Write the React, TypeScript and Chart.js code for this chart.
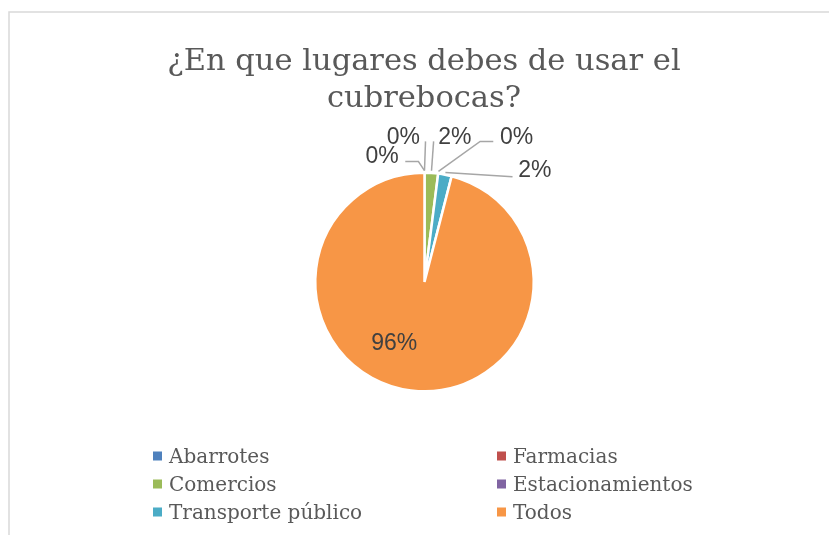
import React, { useEffect, useRef } from "react";
import { Chart, registerables } from "chart.js";

Chart.register(...registerables);

const chartTitle = ["¿En que lugares debes de usar el", "cubrebocas?"];
const categories = ["Abarrotes", "Farmacias", "Comercios", "Estacionamientos", "Transporte público", "Todos"];
const counts = [0, 0, 1, 0, 1, 48];
const percentLabels = ["0%", "0%", "2%", "0%", "2%", "96%"];
const sliceColors = ["#4F81BD", "#C0504D", "#9BBB59", "#8064A2", "#4BACC6", "#F79646"];

// label placement (px at reference radius 108, relative to pie centre)
const REF_R = 108;
const labelCenters: [number, number][] = [[-42, -125], [-21, -144], [30, -144], [91, -144], [109, -111], [-30, 60]];
const leaderPoints: [number, number][][] = [
  [[-19, -119], [-6, -119]],
  [[1, -139]],
  [[9, -139]],
  [[68, -139], [55, -139]],
  [[87, -104]],
  [],
];

const labelPlugin = {
  id: "customDraw",
  beforeDraw(chart: any) {
    const ctx = chart.ctx;
    ctx.save();
    ctx.fillStyle = "#ffffff";
    ctx.fillRect(0, 0, chart.width, chart.height);
    ctx.strokeStyle = "#D9D9D9";
    ctx.lineWidth = 1.5;
    ctx.strokeRect(9, 12, 900, 600);
    ctx.restore();
  },
  afterDraw(chart: any) {
    const ctx = chart.ctx;
    const meta = chart.getDatasetMeta(0);
    const arc0 = meta.data[0];
    const cx = arc0.x;
    const cy = arc0.y;
    const r = arc0.outerRadius;
    const k = r / REF_R;
    ctx.save();
    // title
    ctx.fillStyle = "#595959";
    ctx.font = "30.5px 'DejaVu Serif'";
    ctx.textAlign = "center";
    ctx.textBaseline = "alphabetic";
    ctx.fillText(chartTitle[0], 424, 70);
    ctx.fillText(chartTitle[1], 424, 107);

    // data labels + leader lines
    ctx.font = "23px 'Liberation Sans'";
    ctx.textBaseline = "middle";
    ctx.textAlign = "center";
    meta.data.forEach((arc: any, i: number) => {
      const [lx, ly] = labelCenters[i];
      const pts = leaderPoints[i];
      if (pts.length) {
        const mid = (arc.startAngle + arc.endAngle) / 2;
        const ax = cx + Math.cos(mid) * r * 1.02;
        const ay = cy + Math.sin(mid) * r * 1.02;
        ctx.strokeStyle = "#A6A6A6";
        ctx.lineWidth = 1.5;
        ctx.beginPath();
        ctx.moveTo(cx + pts[0][0] * k, cy + pts[0][1] * k);
        for (let j = 1; j < pts.length; j++) ctx.lineTo(cx + pts[j][0] * k, cy + pts[j][1] * k);
        ctx.lineTo(ax, ay);
        ctx.stroke();
      }
      ctx.fillStyle = "#404040";
      ctx.fillText(percentLabels[i], cx + lx * k, cy + ly * k + 1);
    });

    // legend
    ctx.font = "20px 'DejaVu Serif'";
    ctx.textAlign = "left";
    ctx.textBaseline = "alphabetic";
    const colX = [153, 497];
    const rowY = [456, 484, 512];
    categories.forEach((name, i) => {
      const x = colX[i % 2];
      const y = rowY[Math.floor(i / 2)];
      ctx.fillStyle = sliceColors[i];
      ctx.fillRect(x, y - 4.5, 9, 9);
      ctx.fillStyle = "#595959";
      ctx.fillText(name, x + 16, y + 7);
    });
    ctx.restore();
  },
};

export default function App() {
  const ref = useRef<HTMLCanvasElement | null>(null);
  useEffect(() => {
    if (!ref.current) return;
    const chart = new Chart(ref.current, {
      type: "pie",
      data: {
        labels: categories,
        datasets: [
          {
            data: counts,
            backgroundColor: sliceColors,
            borderColor: "#ffffff",
            borderWidth: 2.5,
          },
        ],
      },
      options: {
        responsive: false,
        animation: false,
        devicePixelRatio: 1,
        layout: { padding: { left: 314, right: 294, top: 171, bottom: 142 } },
        plugins: {
          legend: { display: false },
          title: { display: false },
          tooltip: { enabled: false },
        },
      },
      plugins: [labelPlugin],
    });
    return () => chart.destroy();
  }, []);
  return (
    <div style={{ position: "absolute", left: 0, top: 0, width: 829, height: 535, background: "#fff" }}>
      <canvas ref={ref} width={829} height={535} style={{ width: 829, height: 535, display: "block" }} />
    </div>
  );
}
